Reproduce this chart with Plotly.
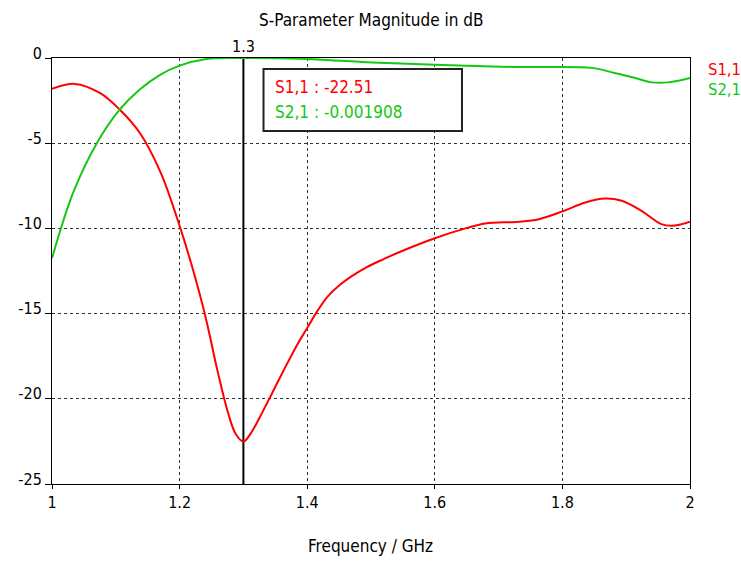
import plotly.graph_objects as go

# Frequency sweep samples (GHz) and magnitudes (dB)
s11_freq = [1.0, 1.036, 1.075, 1.106, 1.1375, 1.17, 1.2, 1.22, 1.24, 1.26, 1.275,
            1.288, 1.3, 1.312, 1.325, 1.345, 1.365, 1.385, 1.4, 1.415, 1.432, 1.45,
            1.47, 1.492, 1.52, 1.544, 1.6, 1.648, 1.679, 1.731, 1.763, 1.8, 1.836,
            1.867, 1.893, 1.924, 1.955, 1.971, 1.987, 2.0]
s11_db = [-1.81, -1.52, -2.05, -3.02, -4.39, -6.7, -9.85, -12.3, -15.1, -18.45, -20.7,
          -22.07, -22.51, -22.0, -21.13, -19.67, -18.19, -16.78, -15.85, -14.9, -14.0, -13.35,
          -12.8, -12.3, -11.8, -11.4, -10.58, -10.0, -9.71, -9.61, -9.46, -9.0, -8.48,
          -8.25, -8.38, -8.97, -9.75, -9.85, -9.75, -9.61]

s21_freq = [1.0, 1.0333, 1.0698, 1.1063, 1.1375, 1.1688, 1.2, 1.2417, 1.3,
            1.3875, 1.502, 1.6, 1.726, 1.846, 1.882, 1.908, 1.94, 1.966, 2.0]
s21_db = [-11.75, -7.89, -5.03, -3.02, -1.85, -1.0, -0.45, -0.06, -0.001908,
          -0.04, -0.26, -0.39, -0.53, -0.58, -0.88, -1.11, -1.43, -1.43, -1.17]

x_ticks = [1, 1.2, 1.4, 1.6, 1.8, 2]
x_tick_text = ["1", "1.2", "1.4", "1.6", "1.8", "2"]
y_ticks = [0, -5, -10, -15, -20, -25]
y_tick_text = ["0", "-5", "-10", "-15", "-20", "-25"]

marker_freq = 1.3
marker_s11 = -22.51
marker_s21 = -0.001908

RED = "rgb(255,0,0)"
GREEN = "rgb(20,200,20)"
FONT = "DejaVu Sans Condensed, DejaVu Sans, sans-serif"

W, H = 741, 561
L, R, T, B = 52, 51, 58, 77
pw, ph = W - L - R, H - T - B


def px_x(p):
    return (p - L) / pw


def px_y(p):
    return 1 - (p - T) / ph


fig = go.Figure()
fig.add_trace(go.Scatter(x=s11_freq, y=s11_db, mode="lines", name="S1,1",
                         line=dict(color=RED, width=2, shape="spline", smoothing=1)))
fig.add_trace(go.Scatter(x=s21_freq, y=s21_db, mode="lines", name="S2,1",
                         line=dict(color=GREEN, width=2, shape="spline", smoothing=1)))

axis_common = dict(showline=True, linecolor="black", linewidth=1, mirror=True,
                   showgrid=True, gridcolor="#333333", gridwidth=1, griddash="3px,3px",
                   zeroline=False, ticks="outside", tickcolor="black",
                   tickfont=dict(family=FONT, size=16, color="black"))

fig.update_xaxes(range=[1, 2], tickvals=x_ticks, ticktext=x_tick_text, ticklen=4,
                 **axis_common)
fig.update_yaxes(range=[-25, 0], tickvals=y_ticks, ticktext=y_tick_text, ticklen=6,
                 ticklabelshift=-5, **axis_common)

# Marker line at the selected frequency
fig.add_shape(type="line", xref="x", yref="paper", x0=marker_freq, x1=marker_freq,
              y0=0, y1=1, line=dict(color="black", width=2), layer="below")

# Marker readout box
fig.add_shape(type="rect", xref="paper", yref="paper",
              x0=px_x(263.5), x1=px_x(462), y0=px_y(131), y1=px_y(69),
              fillcolor="white", line=dict(color="#222222", width=2), layer="above")

annotations = [
    dict(text="S-Parameter Magnitude in dB", xref="paper", yref="paper",
         x=px_x(370.5), y=px_y(20), xanchor="center", yanchor="middle",
         font=dict(family=FONT, size=17, color="black")),
    dict(text="Frequency / GHz", xref="paper", yref="paper",
         x=px_x(370.5), y=px_y(546), xanchor="center", yanchor="middle",
         font=dict(family=FONT, size=17, color="black")),
    dict(text=f"{marker_freq:g}", xref="x", yref="paper", x=marker_freq, y=1,
         yshift=11.5, xanchor="center", yanchor="middle",
         font=dict(family=FONT, size=16, color="black")),
    dict(text=f"S1,1 : {marker_s11:g}", xref="paper", yref="paper",
         x=px_x(273), y=px_y(87), xanchor="left", yanchor="middle",
         font=dict(family=FONT, size=17, color=RED)),
    dict(text=f"S2,1 : {marker_s21:g}", xref="paper", yref="paper",
         x=px_x(273), y=px_y(112), xanchor="left", yanchor="middle",
         font=dict(family=FONT, size=17, color=GREEN)),
    dict(text="S1,1", xref="paper", yref="paper",
         x=px_x(706), y=px_y(69), xanchor="left", yanchor="middle",
         font=dict(family=FONT, size=16.5, color=RED)),
    dict(text="S2,1", xref="paper", yref="paper",
         x=px_x(706), y=px_y(89.5), xanchor="left", yanchor="middle",
         font=dict(family=FONT, size=16.5, color=GREEN)),
]
for a in annotations:
    a.setdefault("showarrow", False)
fig.update_layout(annotations=annotations)

fig.update_layout(width=W, height=H, margin=dict(l=L, r=R, t=T, b=B),
                  paper_bgcolor="white", plot_bgcolor="white", showlegend=False,
                  font=dict(family=FONT, size=16, color="black"))

fig.write_html("out.html")
